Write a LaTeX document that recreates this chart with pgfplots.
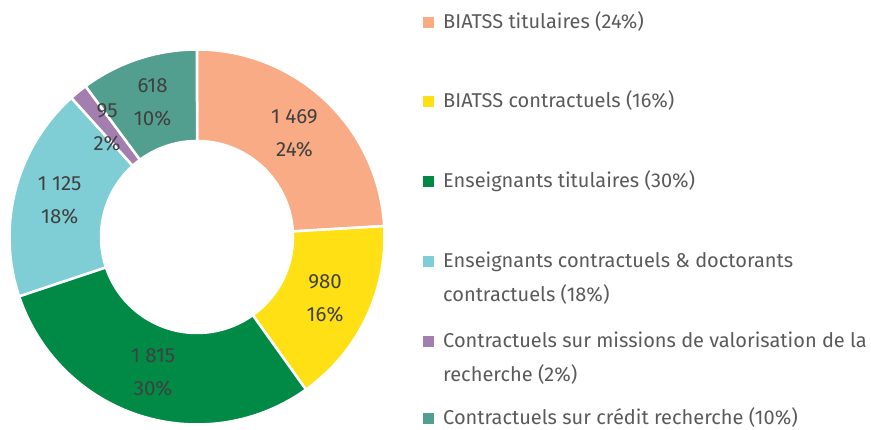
\documentclass[border=0pt]{standalone}
\usepackage{pgfplots}
\pgfplotsset{compat=1.18}
\usepackage{pgfplotstable}
\usepackage{fontspec}
\setmainfont{Fira Sans}
\definecolor{cA}{HTML}{F8AB85}
\definecolor{cB}{HTML}{FFE014}
\definecolor{cC}{HTML}{008A45}
\definecolor{cD}{HTML}{7FCED6}
\definecolor{cE}{HTML}{A27FAE}
\definecolor{cF}{HTML}{529F8F}
\definecolor{labgray}{HTML}{404040}
\definecolor{leggray}{HTML}{5A5A5A}

\pgfplotstableread{
value
1469
980
1815
1125
95
618
}\datatable

\pgfplotstablegetelem{0}{value}\of\datatable \let\vA\pgfplotsretval
\pgfplotstablegetelem{1}{value}\of\datatable \let\vB\pgfplotsretval
\pgfplotstablegetelem{2}{value}\of\datatable \let\vC\pgfplotsretval
\pgfplotstablegetelem{3}{value}\of\datatable \let\vD\pgfplotsretval
\pgfplotstablegetelem{4}{value}\of\datatable \let\vE\pgfplotsretval
\pgfplotstablegetelem{5}{value}\of\datatable \let\vF\pgfplotsretval

\pgfmathsetmacro\tot{\vA+\vB+\vC+\vD+\vE+\vF}
\pgfmathsetmacro\aA{90}
\pgfmathsetmacro\aB{90-360*(\vA/\tot)}
\pgfmathsetmacro\aC{90-360*((\vA+\vB)/\tot)}
\pgfmathsetmacro\aD{90-360*((\vA+\vB+\vC)/\tot)}
\pgfmathsetmacro\aE{90-360*((\vA+\vB+\vC+\vD)/\tot)}
\pgfmathsetmacro\aF{90-360*((\vA+\vB+\vC+\vD+\vE)/\tot)}
\pgfmathsetmacro\aG{-270}

\def\cx{197}
\def\cy{193}
\def\Rout{187.5}
\def\Rin{96}

\newcommand\mklabel[4]{% name, a1, a2, value
  \pgfmathsetmacro\tmpm{(#2+#3)/2}%
  \pgfmathsetmacro\tmpx{\cx+142*cos(\tmpm)}%
  \pgfmathsetmacro\tmpt{\cy+142*sin(\tmpm)+10}%
  \pgfmathsetmacro\tmpb{\cy+142*sin(\tmpm)-23}%
  \pgfmathtruncatemacro\tmpp{round(100*(#4/\tot))}%
  \expandafter\global\expandafter\let\csname lx#1\endcsname\tmpx
  \expandafter\global\expandafter\let\csname lt#1\endcsname\tmpt
  \expandafter\global\expandafter\let\csname lb#1\endcsname\tmpb
  \expandafter\global\expandafter\let\csname lp#1\endcsname\tmpp
}
\mklabel{A}{\aA}{\aB}{\vA}
\mklabel{B}{\aB}{\aC}{\vB}
\mklabel{C}{\aC}{\aD}{\vC}
\mklabel{D}{\aD}{\aE}{\vD}
\mklabel{E}{\aE}{\aF}{\vE}
\mklabel{F}{\aF}{\aG}{\vF}

\newcommand\slice[3]{%
  \addplot[fill=#1, draw=white, line width=2.5pt, line join=round,
    samples at={0,1,...,60,100,101,...,160}, variable=\t]
  ({\cx+((\t<80)?\Rout:\Rin)*cos((\t<80)?(#2+(#3-#2)*\t/60):(#3-(#3-#2)*(\t-100)/60))},
   {\cy+((\t<80)?\Rout:\Rin)*sin((\t<80)?(#2+(#3-#2)*\t/60):(#3-(#3-#2)*(\t-100)/60))}) -- cycle;
}

\newcommand\labfont{\fontsize{20.5}{22}\selectfont}
\newcommand\legfont{\fontsize{20}{22}\selectfont}
% legend entry: colour, baseline (axis y), text
\newcommand\legsq[2]{\fill[#1] (axis cs:423,#2+1) rectangle (axis cs:434,#2+12);}
\newcommand\legtx[2]{\node[anchor=base west, inner sep=0pt, font=\legfont, text=leggray] at (axis cs:443,#1) {#2};}

\begin{document}
\begin{tikzpicture}
\begin{axis}[
  x=1pt, y=1pt, xmin=0, xmax=871, ymin=0, ymax=430,
  scale only axis, hide axis, clip=false,
]
\path (axis cs:0,0) rectangle (axis cs:871,430);
\slice{cA}{\aA}{\aB}
\slice{cB}{\aB}{\aC}
\slice{cC}{\aC}{\aD}
\slice{cD}{\aD}{\aE}
\slice{cE}{\aE}{\aF}
\slice{cF}{\aF}{\aG}

\foreach \n/\v in {A/\vA,B/\vB,C/\vC,D/\vD,E/\vE,F/\vF}{
  \edef\tmp{\noexpand\node[anchor=base, font=\noexpand\labfont, text=labgray]
     at (axis cs:\csname lx\n\endcsname,\csname lt\n\endcsname)
     {\noexpand\pgfmathprintnumber[assume math mode=true, 1000 sep={\noexpand\ }]{\v}};
   \noexpand\node[anchor=base, font=\noexpand\labfont, text=labgray]
     at (axis cs:\csname lx\n\endcsname,\csname lb\n\endcsname)
     {\csname lp\n\endcsname\noexpand\%};}
  \tmp
}

\legsq{cA}{401}
\legtx{401}{BIATSS titulaires (24\%)}
\legsq{cB}{322}
\legtx{322}{BIATSS contractuels (16\%)}
\legsq{cC}{242}
\legtx{242}{Enseignants titulaires (30\%)}
\legsq{cD}{162}
\legtx{162}{Enseignants contractuels \& doctorants}
\legtx{128}{contractuels (18\%)}
\legsq{cE}{82}
\legtx{82}{Contractuels sur missions de valorisation de la}
\legtx{48}{recherche (2\%)}
\legsq{cF}{5}
\legtx{5}{Contractuels sur crédit recherche (10\%)}
\end{axis}
\end{tikzpicture}
\end{document}
